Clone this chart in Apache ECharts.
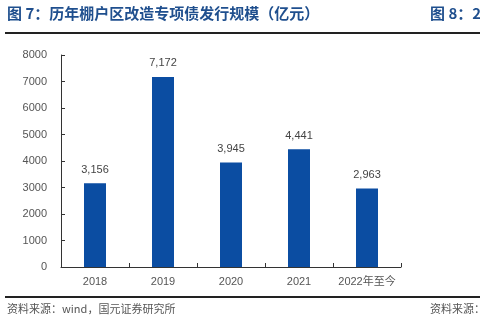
<!DOCTYPE html>
<html><head><meta charset="utf-8">
<script src="https://cdn.jsdelivr.net/npm/echarts@6/dist/echarts.min.js"></script>
<style>html,body{margin:0;padding:0;background:#fff}#c{width:480px;height:327px}</style>
</head><body><div id="c"></div>
<script>
const categories = ['2018', '2019', '2020', '2021', '2022年至今'];
const values = [3156, 7172, 3945, 4441, 2963];
const yTicks = [0, 1000, 2000, 3000, 4000, 5000, 6000, 7000, 8000];

const chart = echarts.init(document.getElementById('c'), null, {renderer: 'canvas'});
const cjk = '"Noto Sans CJK SC", sans-serif';
chart.setOption({
  animation: false,
  grid: {left: 61, right: 79, top: 55, bottom: 60, containLabel: false},
  xAxis: {
    type: 'category', data: categories,
    axisLine: {lineStyle: {color: '#333', width: 1}},
    axisTick: {show: true, inside: true, length: 4, lineStyle: {color: '#333'}},
    axisLabel: {interval: 0, color: '#555', fontSize: 11, fontFamily: 'Arial, "Liberation Sans", ' + cjk, margin: 9}
  },
  yAxis: {
    type: 'value', min: yTicks[0], max: yTicks[yTicks.length - 1], interval: 1000,
    axisLine: {show: true, lineStyle: {color: '#333', width: 1}},
    axisTick: {show: true, inside: true, length: 4, lineStyle: {color: '#333'}},
    splitLine: {show: false},
    axisLabel: {color: '#555', fontSize: 11, fontFamily: 'Arial, "Liberation Sans", sans-serif', margin: 14,
      formatter: v => String(v)}
  },
  series: [{
    type: 'bar', data: values, barWidth: 22,
    itemStyle: {color: '#0b4da2'},
    label: {show: true, position: 'top', distance: 8, color: '#444', fontSize: 11,
      fontFamily: 'Arial, "Liberation Sans", sans-serif',
      formatter: p => p.value.toLocaleString('en-US')}
  }],
  graphic: [
    {type: 'text', left: 7, top: 6, style: {text: '图 7：历年棚户区改造专项债发行规模（亿元）', fill: '#1f4f8e', font: 'bold 15px ' + cjk}},
    {type: 'text', left: 430, top: 6, style: {text: '图 8：2', fill: '#1f4f8e', font: 'bold 15px ' + cjk}},
    {type: 'rect', shape: {x: 5, y: 32, width: 475, height: 2}, style: {fill: '#222'}},
    {type: 'rect', shape: {x: 5, y: 296, width: 475, height: 2}, style: {fill: '#222'}},
    {type: 'text', left: 7, top: 303, style: {text: '资料来源：wind，国元证券研究所', fill: '#555', font: '11px ' + cjk}},
    {type: 'text', left: 430, top: 303, style: {text: '资料来源：', fill: '#555', font: '11px ' + cjk}}
  ]
});
</script></body></html>
